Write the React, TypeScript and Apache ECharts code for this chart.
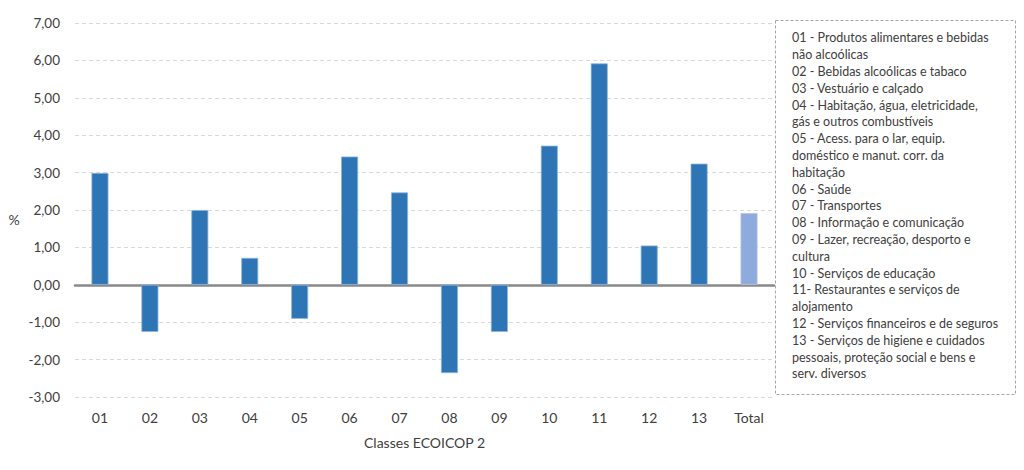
import React, { useEffect, useRef } from "react";
import * as echarts from "echarts";

const categories = ["01", "02", "03", "04", "05", "06", "07", "08", "09", "10", "11", "12", "13", "Total"];
const values = [2.99, -1.26, 2.0, 0.72, -0.91, 3.43, 2.47, -2.36, -1.26, 3.72, 5.92, 1.05, 3.24, 1.92];
const legendLines = [
  "01 - Produtos alimentares e bebidas",
  "não alcoólicas",
  "02 - Bebidas alcoólicas e tabaco",
  "03 - Vestuário e calçado",
  "04 - Habitação, água, eletricidade,",
  "gás e outros combustíveis",
  "05 - Acess. para o lar, equip.",
  "doméstico e manut. corr. da",
  "habitação",
  "06 - Saúde",
  "07 - Transportes",
  "08 - Informação e comunicação",
  "09 - Lazer, recreação, desporto e",
  "cultura",
  "10 - Serviços de educação",
  "11- Restaurantes e serviços de",
  "alojamento",
  "12 - Serviços financeiros e de seguros",
  "13 - Serviços de higiene e cuidados",
  "pessoais, proteção social e bens e",
  "serv. diversos",
];
const xAxisTitle = "Classes ECOICOP 2";
const yAxisTitle = "%";

const FONT = "Lato, 'Open Sans', sans-serif";

export default function App() {
  const ref = useRef<HTMLDivElement>(null);
  useEffect(() => {
    document.body.style.margin = "0";
    const chart = echarts.init(ref.current!, null, { renderer: "svg" });
    chart.setOption({
      animation: false,
      textStyle: { fontFamily: FONT },
      grid: { left: 75, right: 250, top: 23, bottom: 73 },
      xAxis: {
        type: "category",
        data: categories,
        name: xAxisTitle,
        nameLocation: "middle",
        nameGap: 38,
        nameTextStyle: { fontSize: 14, color: "#404040", fontFamily: FONT },
        axisLine: { onZero: true, lineStyle: { color: "#898989", width: 2.5 } },
        axisTick: { show: false },
        axisLabel: {
          fontSize: 14,
          color: "#404040",
          fontFamily: FONT,
          margin: 13,
        },
      },
      yAxis: {
        type: "value",
        min: -3,
        max: 7,
        interval: 1,
        axisLine: { show: false },
        axisTick: { show: false },
        axisLabel: {
          fontSize: 13.5,
          color: "#404040",
          fontFamily: FONT,
          margin: 15,
          formatter: (v: number) => v.toFixed(2).replace(".", ","),
        },
        splitLine: { lineStyle: { color: "#d9d9d9", type: [4, 3], width: 1 } },
      },
      series: [
        {
          type: "bar",
          barWidth: 17,
          data: values.map((v, i) => ({
            value: v,
            itemStyle: {
              color: categories[i] === "Total" ? "#8FAADC" : "#2E75B6",
              borderColor: categories[i] === "Total" ? "#b4c7e7" : "#8fb4dc",
              borderWidth: 0.8,
            },
          })),
        },
      ],
      graphic: [
        {
          type: "text",
          x: 14,
          y: 219,
          style: {
            text: yAxisTitle,
            fontSize: 14,
            fill: "#404040",
            fontFamily: FONT,
            align: "center",
            verticalAlign: "middle",
          },
        },
        {
          type: "rect",
          shape: { x: 775.5, y: 20.5, width: 240, height: 374 },
          style: { fill: "#ffffff", stroke: "#a6a6a6", lineWidth: 1, lineDash: [3, 2] },
          z: 10,
        },
        {
          type: "text",
          x: 792,
          y: 29.5,
          z: 11,
          style: {
            text: legendLines.join("\n"),
            fontSize: 12.5,
            lineHeight: 16.8,
            fill: "#404040",
            fontFamily: FONT,
          },
        },
      ],
    });
    return () => chart.dispose();
  }, []);
  return <div ref={ref} style={{ width: 1024, height: 470 }} />;
}
